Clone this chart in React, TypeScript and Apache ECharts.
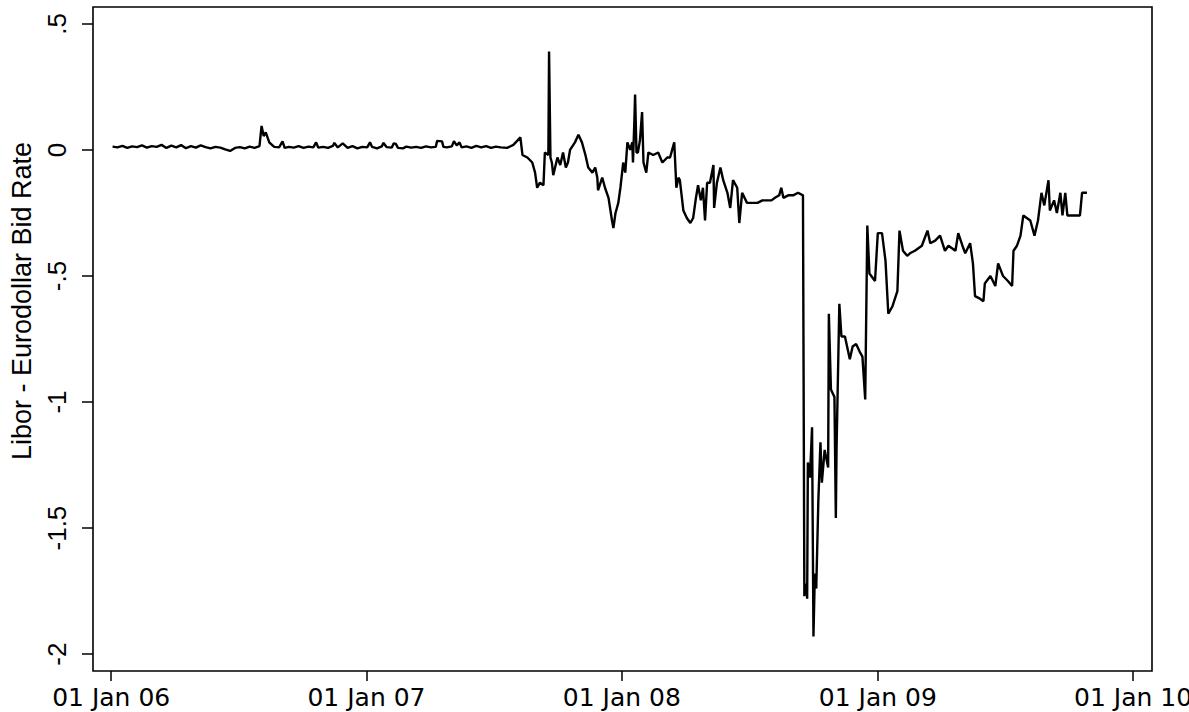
import React, { useEffect, useRef } from "react";
import * as echarts from "echarts";

// ---- Data ----
const dates: string[] = [
  // 2006
  "2006-01-03","2006-01-10","2006-01-17","2006-01-24","2006-01-31","2006-02-07","2006-02-14","2006-02-21","2006-02-28",
  "2006-03-07","2006-03-14","2006-03-21","2006-03-28","2006-04-04","2006-04-11","2006-04-18","2006-04-25",
  "2006-05-02","2006-05-09","2006-05-16","2006-05-23","2006-05-30","2006-06-06","2006-06-13","2006-06-20","2006-06-27",
  "2006-07-04","2006-07-11","2006-07-18","2006-07-25","2006-08-01","2006-08-04","2006-08-07","2006-08-10","2006-08-15",
  "2006-08-22","2006-08-29","2006-09-03","2006-09-06","2006-09-12","2006-09-19","2006-09-26","2006-10-03","2006-10-10",
  "2006-10-17","2006-10-21","2006-10-24","2006-10-31","2006-11-07","2006-11-14","2006-11-16","2006-11-21","2006-11-28",
  "2006-12-05","2006-12-12","2006-12-19","2006-12-26",
  // 2007
  "2007-01-02","2007-01-06","2007-01-09","2007-01-16","2007-01-23","2007-01-25","2007-01-30","2007-02-06","2007-02-09",
  "2007-02-12","2007-02-15","2007-02-22","2007-02-27","2007-03-06","2007-03-13","2007-03-20","2007-03-27","2007-04-03",
  "2007-04-10","2007-04-12","2007-04-19","2007-04-21","2007-04-26","2007-05-03","2007-05-06","2007-05-10","2007-05-14",
  "2007-05-17","2007-05-24","2007-05-31","2007-06-07","2007-06-14","2007-06-21","2007-06-28","2007-07-05","2007-07-12",
  "2007-07-21","2007-07-30","2007-08-09","2007-08-12","2007-08-19","2007-08-26","2007-08-30","2007-09-02","2007-09-06",
  "2007-09-11","2007-09-13","2007-09-18","2007-09-19","2007-09-21","2007-09-23","2007-09-25","2007-10-01","2007-10-05",
  "2007-10-09","2007-10-13","2007-10-16","2007-10-19","2007-10-26","2007-10-31","2007-11-05","2007-11-10","2007-11-14",
  "2007-11-20","2007-11-24","2007-11-27","2007-11-28","2007-12-04","2007-12-08","2007-12-13","2007-12-18","2007-12-20",
  "2007-12-23","2007-12-27","2007-12-30",
  // 2008
  "2008-01-03","2008-01-06","2008-01-09","2008-01-13","2008-01-16","2008-01-17","2008-01-19","2008-01-20","2008-01-22",
  "2008-01-24","2008-01-27","2008-01-30","2008-02-01","2008-02-05","2008-02-08","2008-02-15","2008-02-22","2008-02-28",
  "2008-03-06","2008-03-10","2008-03-13","2008-03-16","2008-03-19","2008-03-22","2008-03-24","2008-03-29","2008-04-03",
  "2008-04-08","2008-04-12","2008-04-16","2008-04-19","2008-04-23","2008-04-26","2008-04-29","2008-05-02","2008-05-06",
  "2008-05-11","2008-05-12","2008-05-16","2008-05-21","2008-05-25","2008-05-31","2008-06-04","2008-06-08","2008-06-14",
  "2008-06-17","2008-06-21","2008-06-28","2008-07-05","2008-07-13","2008-07-20","2008-07-27","2008-08-02","2008-08-07",
  "2008-08-13","2008-08-16","2008-08-19","2008-08-26","2008-09-02","2008-09-09","2008-09-16","2008-09-18","2008-09-21",
  "2008-09-22","2008-09-23","2008-09-26","2008-09-29","2008-10-01","2008-10-03","2008-10-05","2008-10-08","2008-10-11",
  "2008-10-13","2008-10-17","2008-10-22","2008-10-23","2008-10-26","2008-10-31","2008-11-02","2008-11-03","2008-11-07",
  "2008-11-10","2008-11-15","2008-11-22","2008-11-26","2008-12-01","2008-12-06","2008-12-10","2008-12-14","2008-12-17",
  "2008-12-20","2008-12-28",
  // 2009
  "2009-01-01","2009-01-07","2009-01-12","2009-01-16","2009-01-22","2009-01-29","2009-02-01","2009-02-06","2009-02-12",
  "2009-02-16","2009-02-23","2009-03-05","2009-03-13","2009-03-17","2009-03-24","2009-03-31","2009-04-07","2009-04-12",
  "2009-04-22","2009-04-26","2009-05-02","2009-05-06","2009-05-13","2009-05-17","2009-05-20","2009-05-27","2009-06-01",
  "2009-06-03","2009-06-11","2009-06-18","2009-06-22","2009-06-29","2009-07-06","2009-07-12","2009-07-14","2009-07-19",
  "2009-07-24","2009-07-28","2009-08-07","2009-08-13","2009-08-18","2009-08-23","2009-08-27","2009-09-02","2009-09-04",
  "2009-09-10","2009-09-14","2009-09-19","2009-09-22","2009-09-26","2009-09-29","2009-10-17","2009-10-20","2009-10-27",
];

const values: number[] = [
  // 2006
  0.013, 0.010, 0.016, 0.008, 0.014, 0.011, 0.018, 0.009, 0.015,
  0.012, 0.020, 0.008, 0.017, 0.010, 0.019, 0.007, 0.015,
  0.009, 0.018, 0.011, 0.006, 0.012, 0.009, 0.002, -0.004, 0.008,
  0.011, 0.006, 0.013, 0.008, 0.015, 0.095, 0.055, 0.070, 0.030,
  0.012, 0.010, 0.034, 0.008, 0.012, 0.009, 0.015, 0.008, 0.013,
  0.010, 0.030, 0.009, 0.012, 0.008, 0.016, 0.028, 0.010, 0.026,
  0.008, 0.015, 0.006, 0.012,
  // 2007
  0.010, 0.030, 0.012, 0.006, 0.014, 0.028, 0.011, 0.009, 0.026,
  0.024, 0.008, 0.006, 0.013, 0.009, 0.012, 0.008, 0.014, 0.010,
  0.012, 0.036, 0.034, 0.012, 0.010, 0.014, 0.035, 0.018, 0.030,
  0.010, 0.014, 0.008, 0.016, 0.010, 0.015, 0.008, 0.013, 0.010,
  0.008, 0.020, 0.050, -0.020, -0.030, -0.050, -0.090, -0.150, -0.130,
  -0.140, -0.010, -0.020, 0.390, -0.030, -0.050, -0.100, -0.030, -0.060,
  -0.010, -0.070, -0.050, 0.000, 0.030, 0.060, 0.030, -0.020, -0.070,
  -0.090, -0.070, -0.110, -0.160, -0.110, -0.150, -0.190, -0.280, -0.310,
  -0.250, -0.210, -0.150,
  // 2008
  -0.050, -0.090, 0.030, 0.000, 0.030, -0.050, 0.120, 0.220, -0.010,
  -0.010, 0.040, 0.150, -0.050, -0.090, -0.010, -0.020, -0.010, -0.050,
  -0.030, -0.030, 0.000, 0.030, -0.150, -0.110, -0.120, -0.240, -0.270,
  -0.290, -0.270, -0.190, -0.140, -0.200, -0.150, -0.280, -0.130, -0.130,
  -0.060, -0.230, -0.130, -0.070, -0.120, -0.170, -0.230, -0.120, -0.150,
  -0.290, -0.170, -0.210, -0.210, -0.210, -0.200, -0.200, -0.200, -0.190,
  -0.180, -0.150, -0.190, -0.180, -0.180, -0.170, -0.180, -1.770, -1.720,
  -1.780, -1.240, -1.300, -1.100, -1.930, -1.680, -1.740, -1.390, -1.160,
  -1.320, -1.190, -1.260, -0.650, -0.950, -0.980, -1.460, -1.190, -0.610,
  -0.740, -0.740, -0.830, -0.780, -0.770, -0.800, -0.820, -0.990, -0.300,
  -0.490, -0.520,
  // 2009
  -0.330, -0.330, -0.440, -0.650, -0.620, -0.560, -0.320, -0.400, -0.420,
  -0.410, -0.400, -0.380, -0.320, -0.370, -0.360, -0.340, -0.400, -0.380,
  -0.400, -0.330, -0.380, -0.410, -0.370, -0.450, -0.580, -0.590, -0.600,
  -0.530, -0.500, -0.540, -0.450, -0.500, -0.520, -0.540, -0.400, -0.380,
  -0.340, -0.260, -0.280, -0.340, -0.280, -0.170, -0.220, -0.120, -0.240,
  -0.200, -0.250, -0.170, -0.260, -0.170, -0.260, -0.260, -0.170, -0.170,
];

const yTickValues: number[] = [-2, -1.5, -1, -0.5, 0, 0.5];
const yTickLabels: string[] = ["-2", "-1.5", "-1", "-.5", "0", ".5"];
const xTickDates: string[] = ["2006-01-01", "2007-01-01", "2008-01-01", "2009-01-01", "2010-01-01"];
const xTickLabels: string[] = ["01 Jan 06", "01 Jan 07", "01 Jan 08", "01 Jan 09", "01 Jan 10"];
const xRange: string[] = ["2005-12-06", "2010-01-28"];
const yRange: number[] = [-2.067, 0.567];
const yAxisTitle = "Libor - Eurodollar Bid Rate";

const FONT = "'Liberation Sans', Arial, Helvetica, sans-serif";
const WIDE_FONT = "'DejaVu Sans', 'Liberation Sans', Arial, sans-serif";

function toTime(s: string): number {
  const [y, m, d] = s.split("-").map(Number);
  return Date.UTC(y, m - 1, d);
}

export default function App() {
  const ref = useRef<HTMLDivElement | null>(null);

  useEffect(() => {
    if (!ref.current) return;
    const chart = echarts.init(ref.current, undefined, { renderer: "svg" });
    const xTicks = xTickDates.map(toTime);
    const seriesData = dates.map((d, i) => [toTime(d), values[i]]);

    chart.setOption({
      animation: false,
      backgroundColor: "#ffffff",
      grid: {
        left: 93,
        right: 37,
        top: 7,
        bottom: 41,
        outerBoundsMode: "none",
        containLabel: false,
        show: true,
        borderColor: "#000",
        borderWidth: 1.6,
        backgroundColor: "transparent",
      },
      xAxis: {
        type: "value",
        min: toTime(xRange[0]),
        max: toTime(xRange[1]),
        axisLine: { show: false, onZero: false },
        splitLine: { show: false },
        axisTick: {
          show: true,
          length: 10,
          customValues: xTicks,
          lineStyle: { color: "#000", width: 1.5 },
        },
        axisLabel: {
          customValues: xTicks,
          margin: 14,
          fontSize: 25,
          lineHeight: 24,
          fontFamily: WIDE_FONT,
          color: "#000",
          hideOverlap: false,
          formatter: (v: number) => {
            const i = xTicks.indexOf(v);
            return i >= 0 ? xTickLabels[i] : "";
          },
        },
      },
      yAxis: {
        type: "value",
        min: yRange[0],
        max: yRange[1],
        name: yAxisTitle,
        nameLocation: "middle",
        nameRotate: 90,
        nameGap: 58,
        nameTextStyle: {
          fontSize: 27,
          fontFamily: FONT,
          color: "#000",
          padding: [0, 0, 0, 76],
        },
        axisLine: { show: false, onZero: false },
        splitLine: { show: false },
        axisTick: {
          show: true,
          length: 11,
          customValues: yTickValues,
          lineStyle: { color: "#000", width: 1.5 },
        },
        axisLabel: {
          customValues: yTickValues,
          rotate: 90,
          margin: 23,
          fontSize: 26,
          fontFamily: FONT,
          color: "#000",
          formatter: (v: number) => {
            const i = yTickValues.findIndex((t) => Math.abs(t - v) < 1e-9);
            return i >= 0 ? yTickLabels[i] : "";
          },
        },
      },
      series: [
        {
          type: "line",
          data: seriesData,
          showSymbol: false,
          symbol: "none",
          lineStyle: { color: "#000", width: 2.4 },
        },
      ],
    });

    return () => chart.dispose();
  }, []);

  return (
    <div
      ref={ref}
      style={{ position: "absolute", left: 0, top: 0, width: 1189, height: 712, background: "#fff" }}
    />
  );
}
